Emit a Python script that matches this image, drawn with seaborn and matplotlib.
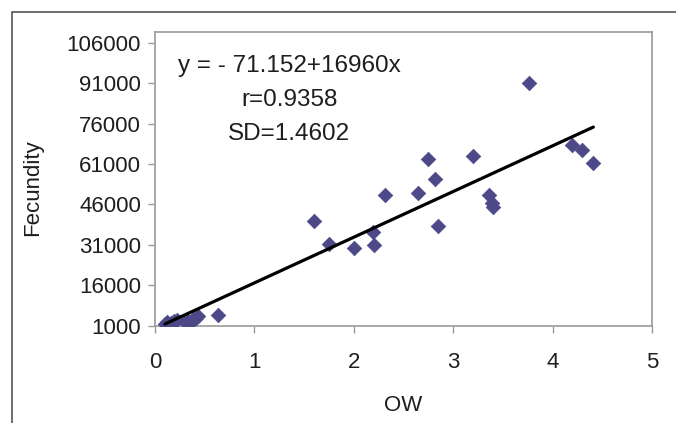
"""Fecundity vs ovary weight (OW) scatter with linear fit."""

import matplotlib.pyplot as plt
import numpy as np
import pandas as pd
import seaborn as sns
from matplotlib.patches import Rectangle

# Data.
OW = [0.10, 0.12, 0.14, 0.16, 0.19, 0.22, 0.30, 0.33, 0.36, 0.38, 0.41, 0.43,
      0.63, 1.60, 1.75, 2.00, 2.19, 2.20, 2.31, 2.65, 2.75, 2.82, 2.85, 3.20,
      3.36, 3.39, 3.40, 3.76, 4.20, 4.30, 4.41]
FECUNDITY = [1500, 2300, 1400, 2100, 2700, 3300, 2200, 2700, 2500, 3500, 4000,
             4500, 5000, 39700, 31400, 29800, 35700, 31000, 49400, 50200, 62900,
             55600, 38100, 63900, 49600, 46500, 45000, 91000, 67900, 66100, 61400]

# Regression reported on the chart.
INTERCEPT = -71.152
SLOPE = 16960

Y_TICKS = [1000, 16000, 31000, 46000, 61000, 76000, 91000, 106000]
X_TICKS = [0, 1, 2, 3, 4, 5]

ANNOTATIONS = ["y = - 71.152+16960x", "r=0.9358", "SD=1.4602"]

MARKER_COLOR = "#4d4888"
FRAME_COLOR = "#9a9a9a"
TEXT_COLOR = "#1e1e1e"


def main() -> None:
    sns.set_style("white")
    plt.rcParams["font.family"] = ["Liberation Sans", "DejaVu Sans"]

    df = pd.DataFrame({"OW": OW, "Fecundity": FECUNDITY})
    fit_x = np.array([min(OW), max(OW)])
    fit = pd.DataFrame({"OW": fit_x, "Fecundity": INTERCEPT + SLOPE * fit_x})

    fig = plt.figure(figsize=(6.76, 4.23), dpi=100)
    ax = fig.add_axes([0.2293, 0.230, 0.7352, 0.6943])

    # Outer border of the original chart object (only top/left visible).
    fig.add_artist(Rectangle((12 / 676, -0.5), 2.0, 1.5 - 12 / 423,
                             transform=fig.transFigure, fill=False,
                             edgecolor="#555555", linewidth=1.2))

    sns.scatterplot(data=df, x="OW", y="Fecundity", ax=ax, marker="D", s=55,
                    color=MARKER_COLOR, edgecolor=MARKER_COLOR, linewidth=0.5,
                    zorder=3)
    sns.lineplot(data=fit, x="OW", y="Fecundity", ax=ax, color="black",
                 linewidth=2.3, zorder=4)

    ax.set_xlim(0, 5)
    ax.set_ylim(1000, 110000)
    ax.set_xticks(X_TICKS)
    ax.set_xticklabels([str(t) for t in X_TICKS])
    ax.set_yticks(Y_TICKS)
    ax.set_yticklabels([str(t) for t in Y_TICKS])
    ax.tick_params(axis="both", labelsize=16, direction="out", length=5,
                   width=1, color=FRAME_COLOR, colors=TEXT_COLOR)
    ax.tick_params(axis="x", pad=14)
    ax.tick_params(axis="y", pad=5)
    ax.tick_params(axis="both", which="both", bottom=True, left=True)

    for spine in ax.spines.values():
        spine.set_visible(True)
        spine.set_color(FRAME_COLOR)
        spine.set_linewidth(1.2)

    ax.set_xlabel("OW", fontsize=16, color=TEXT_COLOR)
    ax.set_ylabel("Fecundity", fontsize=16, color=TEXT_COLOR)
    ax.xaxis.set_label_coords(0.5, -0.27)
    ax.yaxis.set_label_coords(-0.247, 0.47)
    ax.xaxis.label.set_va("center")
    ax.yaxis.label.set_va("center")

    for text, yfrac in zip(ANNOTATIONS, [0.865, 0.748, 0.632]):
        ax.text(0.27, yfrac, text, transform=ax.transAxes, ha="center",
                va="baseline", fontsize=17.5, color=TEXT_COLOR)

    fig.savefig("out.png", dpi=100)
    plt.close(fig)


if __name__ == "__main__":
    main()
